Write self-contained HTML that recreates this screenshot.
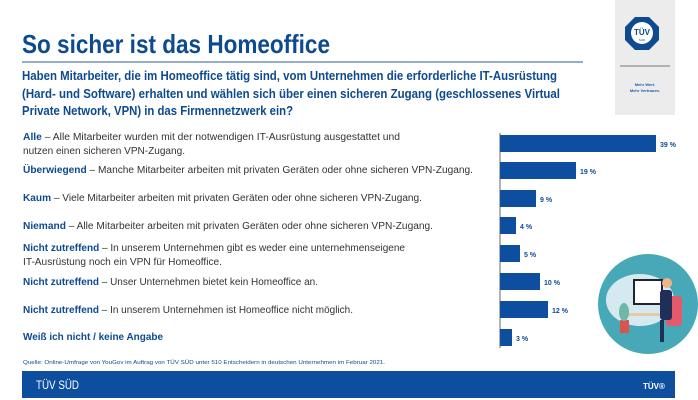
<!DOCTYPE html>
<html><head><meta charset="utf-8"><style>
html,body{margin:0;padding:0;background:#fff;}
svg{display:block;}
text{font-family:"Liberation Sans",sans-serif;}
</style></head><body>
<svg width="698" height="400" viewBox="0 0 698 400" xmlns="http://www.w3.org/2000/svg">
<rect x="615" y="0" width="60" height="115" fill="#ececec"/>
<polygon points="635,17 649,17 659,27 659,40 649,50 635,50 625,40 625,27" fill="#0d4a8f"/>
<circle cx="642" cy="33" r="11" fill="#fff"/>
<text x="642" y="35" font-size="8" font-weight="bold" fill="#0d4a8f" text-anchor="middle">TÜV</text>
<text x="642" y="41" font-size="3" fill="#0d4a8f" text-anchor="middle">SÜD</text>
<line x1="620" y1="66" x2="670" y2="66" stroke="#555" stroke-width="0.7"/>
<text x="645" y="86" font-size="4" fill="#1e5aa0" text-anchor="middle" font-weight="bold">Mehr Wert.</text>
<text x="645" y="92" font-size="4" fill="#1e5aa0" text-anchor="middle" font-weight="bold">Mehr Vertrauen.</text>

<text x="22" y="53" font-size="26" font-weight="bold" fill="#0d4a8f" textLength="308" lengthAdjust="spacingAndGlyphs">So sicher ist das Homeoffice</text>
<line x1="22" y1="62" x2="583" y2="62" stroke="#6f93b8" stroke-width="1.5"/>
<g font-size="12.5" font-weight="bold" fill="#0d4a8f">
<text x="22" y="80" textLength="535" lengthAdjust="spacingAndGlyphs">Haben Mitarbeiter, die im Homeoffice tätig sind, vom Unternehmen die erforderliche IT-Ausrüstung</text>
<text x="22" y="98" textLength="538" lengthAdjust="spacingAndGlyphs">(Hard- und Software) erhalten und wählen sich über einen sicheren Zugang (geschlossenes Virtual</text>
<text x="22" y="115" textLength="271" lengthAdjust="spacingAndGlyphs">Private Network, VPN) in das Firmennetzwerk ein?</text>
</g>

<g font-size="10" fill="#333">
<text x="23" y="140" textLength="377" lengthAdjust="spacingAndGlyphs"><tspan font-weight="bold" fill="#0d4a8f">Alle</tspan> – Alle Mitarbeiter wurden mit der notwendigen IT-Ausrüstung ausgestattet und</text>
<text x="23" y="154" textLength="162" lengthAdjust="spacingAndGlyphs">nutzen einen sicheren VPN-Zugang.</text>
<text x="23" y="173" textLength="450" lengthAdjust="spacingAndGlyphs"><tspan font-weight="bold" fill="#0d4a8f">Überwiegend</tspan> – Manche Mitarbeiter arbeiten mit privaten Geräten oder ohne sicheren VPN-Zugang.</text>
<text x="23" y="201" textLength="399" lengthAdjust="spacingAndGlyphs"><tspan font-weight="bold" fill="#0d4a8f">Kaum</tspan> – Viele Mitarbeiter arbeiten mit privaten Geräten oder ohne sicheren VPN-Zugang.</text>
<text x="23" y="229" textLength="410" lengthAdjust="spacingAndGlyphs"><tspan font-weight="bold" fill="#0d4a8f">Niemand</tspan> – Alle Mitarbeiter arbeiten mit privaten Geräten oder ohne sicheren VPN-Zugang.</text>
<text x="23" y="251" textLength="382" lengthAdjust="spacingAndGlyphs"><tspan font-weight="bold" fill="#0d4a8f">Nicht zutreffend</tspan> – In unserem Unternehmen gibt es weder eine unternehmenseigene</text>
<text x="23" y="265" textLength="199" lengthAdjust="spacingAndGlyphs">IT-Ausrüstung noch ein VPN für Homeoffice.</text>
<text x="23" y="285" textLength="295" lengthAdjust="spacingAndGlyphs"><tspan font-weight="bold" fill="#0d4a8f">Nicht zutreffend</tspan> – Unser Unternehmen bietet kein Homeoffice an.</text>
<text x="23" y="313" textLength="330" lengthAdjust="spacingAndGlyphs"><tspan font-weight="bold" fill="#0d4a8f">Nicht zutreffend</tspan> – In unserem Unternehmen ist Homeoffice nicht möglich.</text>
<text x="23" y="340" textLength="140" lengthAdjust="spacingAndGlyphs" font-weight="bold" fill="#0d4a8f">Weiß ich nicht / keine Angabe</text>
</g>
<text x="23" y="364" font-size="5.5" fill="#0d4a8f" textLength="362" lengthAdjust="spacingAndGlyphs">Quelle: Online-Umfrage von YouGov im Auftrag von TÜV SÜD unter 510 Entscheidern in deutschen Unternehmen im Februar 2021.</text>

<line x1="500" y1="133" x2="500" y2="348" stroke="#666" stroke-width="1"/>
<g fill="#0d4f9e">
<rect x="500" y="135" width="156" height="17"/>
<rect x="500" y="162" width="76" height="17"/>
<rect x="500" y="190" width="36" height="17"/>
<rect x="500" y="217" width="16" height="17"/>
<rect x="500" y="245" width="20" height="17"/>
<rect x="500" y="273" width="40" height="17"/>
<rect x="500" y="301" width="48" height="17"/>
<rect x="500" y="329" width="12" height="17"/>
</g>
<g font-size="7" font-weight="bold" fill="#0d4a8f">
<text x="660" y="147">39 %</text>
<text x="580" y="174">19 %</text>
<text x="540" y="202">9 %</text>
<text x="520" y="229">4 %</text>
<text x="524" y="257">5 %</text>
<text x="544" y="285">10 %</text>
<text x="552" y="313">12 %</text>
<text x="516" y="341">3 %</text>
</g>

<circle cx="648" cy="304" r="50" fill="#47a9b7"/>
<ellipse cx="640" cy="300" rx="34" ry="26" fill="#d5eaf0"/>
<rect x="634" y="280" width="28" height="24" fill="#fff" stroke="#223" stroke-width="2"/>
<rect x="628" y="313" width="40" height="3" fill="#e8c9a0"/>
<rect x="620" y="320" width="9" height="13" fill="#d9534f"/>
<ellipse cx="624" cy="312" rx="5" ry="9" fill="#6fb7a8"/>
<rect x="666" y="296" width="16" height="30" rx="4" fill="#e35a6a"/>
<rect x="660" y="290" width="12" height="30" rx="3" fill="#1f2f5a"/>
<circle cx="667" cy="283" r="5" fill="#f0b48a"/>
<rect x="660" y="320" width="4" height="22" fill="#1f2f5a"/>

<rect x="22" y="371" width="653" height="27" fill="#0d4f9e"/>
<text x="36" y="389" font-size="12" fill="#fff" textLength="43" lengthAdjust="spacingAndGlyphs">TÜV SÜD</text>
<text x="643" y="389" font-size="8" font-weight="bold" fill="#fff">TÜV®</text>
</svg>
</body></html>
